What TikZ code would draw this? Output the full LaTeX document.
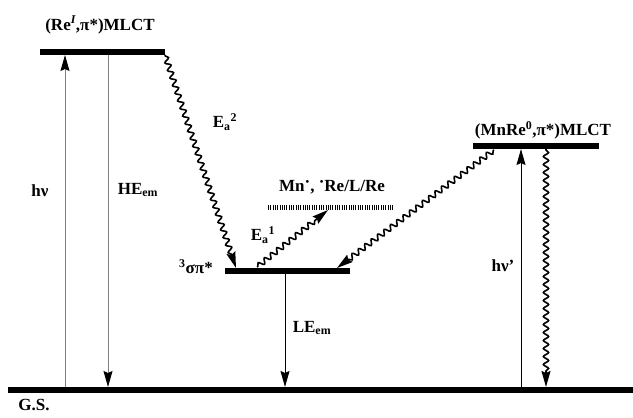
\documentclass[tikz,border=0pt]{standalone}
\usepackage{fontspec}
\setmainfont{Liberation Serif}
\usetikzlibrary{arrows.meta,decorations.pathmorphing}
\begin{document}
\begin{tikzpicture}[x=1pt,y=-1pt,
  level/.style={line width=6pt},
  lbl/.style={font=\fontsize{17}{20}\selectfont\bfseries, inner sep=0pt},
  tip/.style={-{Stealth[length=16pt,width=9pt,inset=2pt,color=black]}},
  thinarrow/.style={tip, line width=0.9pt},
  wavy/.style={tip, line width=1.6pt, decorate,
    decoration={snake, amplitude=2.6pt, segment length=8pt, post length=14pt, pre length=1pt}}]
\useasboundingbox (0,0) rectangle (633,418);
% levels
\coordinate (L1a) at (40,52);  \coordinate (L1b) at (165,52);
\coordinate (L2a) at (225,271); \coordinate (L2b) at (350,271);
\coordinate (L3a) at (473,146); \coordinate (L3b) at (599,146);
\coordinate (GSa) at (8,390);  \coordinate (GSb) at (633,390);
\coordinate (Da) at (268,207); \coordinate (Db) at (393,207);
\draw[level] (L1a) -- (L1b);
\draw[level] (L2a) -- (L2b);
\draw[level] (L3a) -- (L3b);
\draw[line width=6.5pt] (GSa) -- (GSb);
\draw[line width=5pt, dash pattern=on 1pt off 1.3pt] (Da) -- (Db);
% arrow endpoints
\coordinate (hvB) at (65,387);  \coordinate (hvT) at (65,55);
\coordinate (heT) at (108,55);  \coordinate (heB) at (108,387);
\coordinate (leT) at (285,274); \coordinate (leB) at (285,387);
\coordinate (hv2B) at (521,387); \coordinate (hv2T) at (521,149);
\coordinate (w3T) at (546,149); \coordinate (w3B) at (546,387);
\coordinate (e2a) at (165,55); \coordinate (e2b) at (236,268);
\coordinate (e1a) at (257,267); \coordinate (e1b) at (328,210);
\coordinate (rwa) at (494,150); \coordinate (rwb) at (337,268);
% straight arrows
\draw[thinarrow, draw=black!50] (hvB) -- (hvT);
\draw[thinarrow, draw=black!50] (heT) -- (heB);
\draw[thinarrow] (leT) -- (leB);
\draw[thinarrow] (hv2B) -- (hv2T);
% wavy arrows
\draw[wavy] (w3T) -- (w3B);
\draw[wavy] (e2a) -- (e2b);
\draw[wavy] (e1a) -- (e1b);
\draw[wavy] (rwa) -- (rwb);
% labels
\node[lbl] (t1) at (100,25) {(Re\textsuperscript{\itshape I},π*)MLCT};
\node[lbl] (t2) at (543,130) {(MnRe\textsuperscript{0},π*)MLCT};
\node[lbl] (ea2) at (225,122) {E\textsubscript{a}\textsuperscript{2}};
\node[lbl] (ea1) at (263,235) {E\textsubscript{a}\textsuperscript{1}};
\node[lbl] (s3) at (196,267) {\textsuperscript{3}σπ*};
\node[lbl] (mn) at (332,187) {Mn\raisebox{0.55ex}{·}, \raisebox{0.55ex}{·}Re/L/Re};
\node[lbl] (hv) at (40,191) {hν};
\node[lbl] (hv2) at (503,266) {hν'};
\node[lbl] (he) at (138,190) {HE\textsubscript{em}};
\node[lbl] (le) at (312,328) {LE\textsubscript{em}};
\node[lbl] (gs) at (34,405) {G.S.};
\end{tikzpicture}
\end{document}
